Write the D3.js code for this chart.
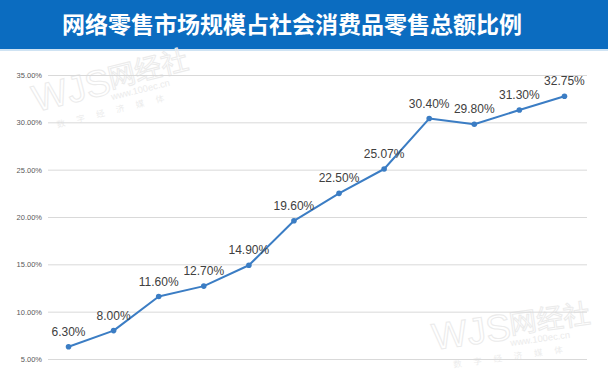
<!DOCTYPE html>
<html>
<head>
<meta charset="utf-8">
<script src="https://cdn.jsdelivr.net/npm/d3@7"></script>
<style>
  html, body { margin: 0; padding: 0; background: #fff; }
  svg { display: block; }
</style>
</head>
<body>
<svg id="chart" width="608" height="376"></svg>
<script>
// chart data
const title = '网络零售市场规模占社会消费品零售总额比例';
const periods = ['1', '2', '3', '4', '5', '6', '7', '8', '9', '10', '11', '12'];
const shares = [0.063, 0.08, 0.116, 0.127, 0.149, 0.196, 0.225, 0.2507, 0.304, 0.298, 0.313, 0.3275];
const yTicks = [0.05, 0.10, 0.15, 0.20, 0.25, 0.30, 0.35];

const width = 608;
const height = 376;
const lineColor = '#3b7dc4';

const svg = d3.select('#chart');

// title banner
svg.append('rect')
  .attr('width', width)
  .attr('height', 49)
  .style('fill', '#0b6cc0');

svg.append('rect')
  .attr('y', 49)
  .attr('width', width)
  .attr('height', 2)
  .style('fill', '#cfe3f3');

svg.append('text')
  .attr('x', 292)
  .attr('y', 33)
  .attr('text-anchor', 'middle')
  .style('font-family', '"Noto Sans CJK SC", sans-serif')
  .style('font-weight', 'bold')
  .style('font-size', '23px')
  .style('fill', '#fff')
  .text(title);

// watermarks (faint, behind the plot)
function watermark(x, y, s, rot) {
  const g = svg.append('g')
    .attr('transform', `translate(${x} ${y}) rotate(${rot}) scale(${s})`)
    .style('fill', 'none')
    .style('stroke', '#ebebeb')
    .style('stroke-width', 1.2);
  g.append('text')
    .style('font-family', '"Liberation Sans", sans-serif')
    .style('font-size', '44px')
    .text('WJS');
  g.append('text')
    .attr('x', 92)
    .attr('y', -6)
    .style('font-family', '"Noto Sans CJK SC", sans-serif')
    .style('font-size', '32px')
    .text('网经社');
  g.append('text')
    .attr('x', 90)
    .attr('y', 8)
    .style('fill', '#ebebeb')
    .style('stroke', 'none')
    .style('font-family', '"Liberation Sans", sans-serif')
    .style('font-size', '11px')
    .text('www.100ec.cn');
  g.append('text')
    .attr('x', 20)
    .attr('y', 24)
    .style('fill', '#ececec')
    .style('stroke', 'none')
    .style('letter-spacing', '14px')
    .style('font-family', '"Noto Sans CJK SC", sans-serif')
    .style('font-size', '10px')
    .text('数字经济媒体');
}
watermark(36, 112, 0.85, -14);
watermark(434, 350, 0.85, -8);

// scales
const x = d3.scalePoint()
  .domain(periods)
  .range([46, 587])
  .padding(0.5);

const y = d3.scaleLinear()
  .domain([0.05, 0.35])
  .range([359, 75]);

// gridlines + y axis labels
const yAxis = d3.axisLeft(y)
  .tickValues(yTicks)
  .tickFormat(d3.format('.2%'))
  .tickSize(-(587 - 48))
  .tickPadding(6);

const axisG = svg.append('g')
  .attr('transform', 'translate(48 0)')
  .call(yAxis);

axisG.select('.domain').remove();
axisG.selectAll('.tick line')
  .style('stroke', '#d9d9d9')
  .style('stroke-width', 1);
axisG.selectAll('.tick text')
  .style('font-family', '"Liberation Sans", sans-serif')
  .style('font-size', '7.5px')
  .style('fill', '#595959');

// series line
const line = d3.line()
  .x((d, i) => x(periods[i]))
  .y(d => y(d));

svg.append('path')
  .datum(shares)
  .attr('d', line)
  .style('fill', 'none')
  .style('stroke', lineColor)
  .style('stroke-width', 2)
  .style('stroke-linejoin', 'round');

svg.selectAll('.marker')
  .data(shares)
  .enter().append('circle')
  .attr('class', 'marker')
  .attr('cx', (d, i) => x(periods[i]))
  .attr('cy', d => y(d))
  .attr('r', 2.8)
  .style('fill', lineColor);

// data labels
svg.selectAll('.data-label')
  .data(shares)
  .enter().append('text')
  .attr('class', 'data-label')
  .attr('x', (d, i) => x(periods[i]))
  .attr('y', d => y(d) - 11)
  .attr('text-anchor', 'middle')
  .style('font-family', '"Liberation Sans", sans-serif')
  .style('font-size', '12px')
  .style('fill', '#404040')
  .text(d => d3.format('.2%')(d));
</script>
</body>
</html>
